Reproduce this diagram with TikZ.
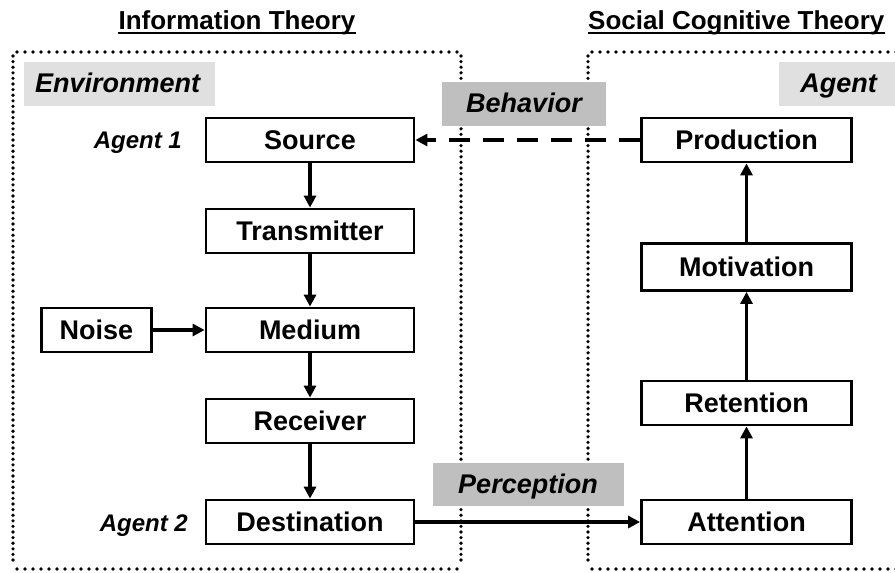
\documentclass[tikz,border=0pt]{standalone}
\usepackage{fontspec}
\setmainfont{Liberation Sans}
\usetikzlibrary{arrows.meta}
\begin{document}
\begin{tikzpicture}[x=1pt,y=-1pt,
  stepbox/.style={draw=black,line width=2.8pt,fill=white,minimum width=208pt,minimum height=44pt,inner sep=0pt,text height=19.3pt,text depth=0pt,font=\fontsize{27}{30}\selectfont\bfseries},
  lbl/.style={inner sep=0pt,font=\fontsize{27}{30}\selectfont\bfseries\itshape},
  agentlbl/.style={inner sep=0pt,font=\fontsize{24}{28}\selectfont\bfseries\itshape},
  ttl/.style={inner sep=0pt,font=\fontsize{26}{30}\selectfont\bfseries},
  hdots/.style={line width=3.6pt,line cap=round,dash pattern=on 0pt off 8pt},
  vdots/.style={line width=3.6pt,line cap=round,dash pattern=on 0pt off 5.6pt},
  arr/.style={line width=3.4pt,-{Triangle[length=12pt,width=12pt]}},
  dasharr/.style={line width=3.8pt,dash pattern=on 21pt off 13pt,-{Triangle[length=12pt,width=12pt]}}
]
\useasboundingbox (0,0) rectangle (895,573);
% titles
\node[ttl,anchor=base] (t1) at (237,29) {Information Theory};
\draw[line width=2pt] ([yshift=-4pt]t1.base west) -- ([yshift=-4pt]t1.base east);
\node[ttl,anchor=base west] (t2) at (588,29) {Social Cognitive Theory};
\draw[line width=2pt] ([yshift=-4pt]t2.base west) -- ([yshift=-4pt]t2.base east);
% left column
\node[stepbox] (src) at (310,140) {Source};
\node[stepbox] (trn) at (310,231) {Transmitter};
\node[stepbox] (med) at (310,330) {Medium};
\node[stepbox] (rcv) at (310,421) {Receiver};
\node[stepbox] (dst) at (310,522) {Destination};
\node[stepbox,minimum width=110pt] (noi) at (96.5,330) {Noise};
% right column
\node[stepbox,minimum width=210pt] (prd) at (746.5,140) {Production};
\node[stepbox,minimum width=210pt,minimum height=47pt] (mot) at (746.5,267) {Motivation};
\node[stepbox,minimum width=210pt] (ret) at (746.5,403) {Retention};
\node[stepbox,minimum width=210pt] (att) at (746.5,522) {Attention};
% connectors
\draw[arr] (src) -- (trn);
\draw[arr] (trn) -- (med);
\draw[arr] (med) -- (rcv);
\draw[arr] (rcv) -- (dst);
\draw[arr] (noi) -- (med);
\draw[arr] (att) -- (ret);
\draw[arr] (ret) -- (mot);
\draw[arr] (mot) -- (prd);
\draw[arr] (dst) -- (att);
\draw[dasharr] (prd) -- (src);
% dotted frames
\draw[hdots] (17,52) -- (457,52);
\draw[hdots] (17,569) -- (457,569);
\draw[vdots] (13,56) -- (13,565);
\draw[vdots] (461,56) -- (461,565);
\draw[hdots] (592,52) -- (900,52);
\draw[hdots] (592,569) -- (900,569);
\draw[vdots] (588,56) -- (588,565);
% gray labels
\fill[black!12] (24,62) rectangle (215,106);
\fill[black!12] (779,62) rectangle (900,106);
\fill[black!25] (442,82) rectangle (606,126);
\fill[black!25] (433,463) rectangle (624,506);
% region labels
\node[lbl,anchor=base west] (env) at (35,92) {Environment};
\node[lbl,anchor=base east] (agt) at (877,92) {Agent};
\node[lbl,anchor=base] (beh) at (524,112) {Behavior};
\node[lbl,anchor=base] (per) at (528,493) {Perception};
\node[agentlbl,anchor=base east] (a1) at (182,148) {Agent 1};
\node[agentlbl,anchor=base east] (a2) at (188,531) {Agent 2};
\end{tikzpicture}
\end{document}
